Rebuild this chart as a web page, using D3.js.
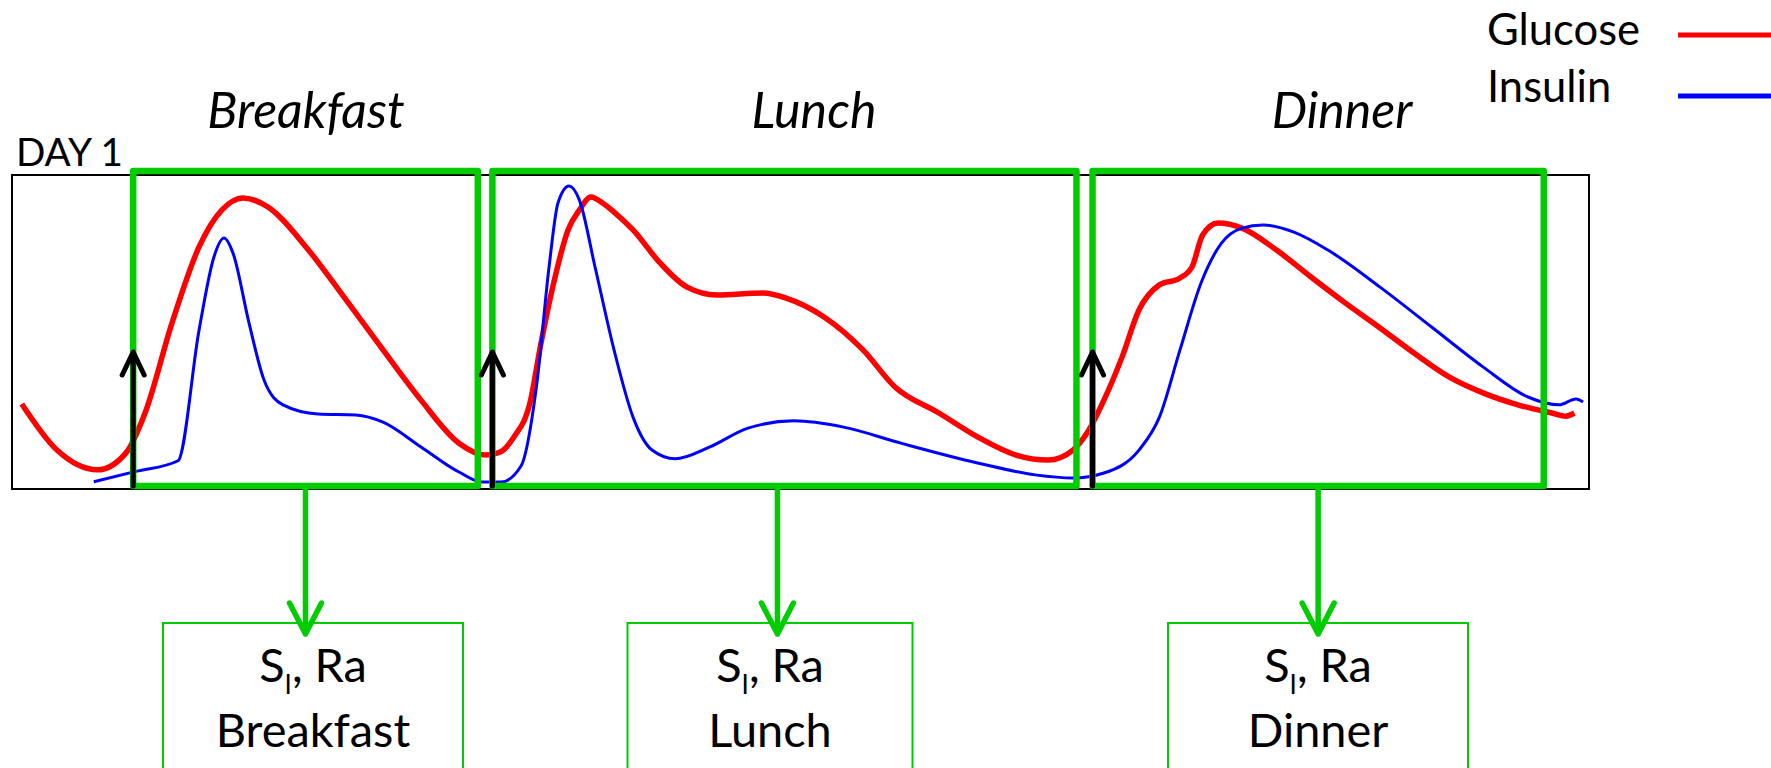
<!DOCTYPE html>
<html><head><meta charset="utf-8">
<script src="https://cdn.jsdelivr.net/npm/d3@7"></script>
<style>html,body{margin:0;padding:0;background:#fff;}svg{display:block;}</style>
</head><body>
<script>
// ---------- data (time in minutes from start of trace, level in a.u.) ----------
const glucoseT = [6.7,30.8,58.6,78.1,91.1,109.6,128.1,143.8,158.2,175.3,201.3,227.4,254.1,280.1,306.1,324.6,334,343.8,354.7,362.3,371.9,380.8,388.6,396.5,404.4,412.3,425.3,443.8,462.3,482.8,514.3,530.1,556.1,582.8,604.7,634.8,661.2,687.6,709.5,726.6,736.2,747.8,760.2,771.8,785.8,799.9,808.1,815.4,825.9,842.4,866.0,889.6,913.2,936.9,960.1,984.1,1007.4,1031.3,1054.6,1064.2,1070.0];
const glucoseV = [27.1,12.4,6.1,11.5,24.2,52.9,77.1,88.9,92.7,89.8,77.1,61.1,44.3,28.3,14.6,10.8,11.7,16.6,27.4,46.5,67.5,82.5,88.9,93.0,91.1,88.2,82.5,72.0,64.3,61.8,62.4,60.8,54.8,44.3,32.5,24.2,16.6,10.8,9.2,12.4,17.8,28.3,42.0,57.0,65.0,67.2,70.7,80.9,84.7,83.1,76.1,67.5,59.2,51.3,43.3,35.7,30.6,26.8,24.2,23.2,24.2];
const insulinT = [56.0,84.8,113.7,128.1,138.3,145.2,151.3,162.3,172.6,185.6,209.6,235.6,254.1,280.1,306.1,321.9,334.9,348.6,359.5,367.8,373.9,381.5,388.6,399.3,412.3,425.3,438.3,454.1,478.0,504.0,535.5,569.5,608.8,661.2,700.6,726.6,747.8,771.8,785.8,799.9,814.3,828.3,842.4,856.7,877.9,901.2,936.9,972.2,1007.4,1038.2,1059.5,1071.1,1075.9];
const insulinV = [2.3,5.6,9.0,50.6,73.9,79.9,75.2,52.9,34.7,26.8,23.9,23.6,21.3,13.4,5.4,2.2,2.2,7.3,33.8,70.7,91.1,96.5,92.0,70.7,44.3,22.9,12.4,9.6,13.4,19.4,21.7,19.7,14.6,8.3,4.5,3.5,5.1,12.4,22.9,44.3,65.6,78.3,83.1,84.1,81.8,76.1,64.3,51.6,38.9,29.3,26.8,28.7,27.7];
const meals = ["Breakfast","Lunch","Dinner"];
const mealStart = [83, 329, 740];
const mealEnd = [319, 729, 1049];
const seriesNames = ["Glucose","Insulin"];
const dayLabel = "DAY 1";
const paramLine1 = ["S","I",", Ra"];

// ---------- layout ----------
const W = 1771, H = 768;
const GREEN = "#00cc00";
const svg = d3.select("body").append("svg").attr("width", W).attr("height", H);
const x = d3.scaleLinear().domain([0, 1080]).range([12, 1589]);
const y = d3.scaleLinear().domain([0, 100]).range([489, 175]);
const FONT = "Lato, 'Open Sans', sans-serif";

function fitGroup(sels, targets) {
  const sizes = sels.map((s, i) => {
    const fs = parseFloat(s.attr("font-size"));
    const L = s.node().getComputedTextLength();
    return L > 0 ? fs * targets[i] / L : fs;
  });
  const m = d3.mean(sizes);
  sels.forEach(s => s.attr("font-size", m.toFixed(2)));
  return m;
}

svg.append("rect")
  .attr("x", x(0)).attr("y", y(100))
  .attr("width", x(1080) - x(0)).attr("height", y(0) - y(100))
  .attr("fill", "none").attr("stroke", "#000").attr("stroke-width", 2);

const dl = svg.append("text").text(dayLabel)
  .attr("x", 16).attr("y", 166).attr("font-family", FONT).attr("font-size", 39).attr("fill", "#000");
fitGroup([dl], [107]);

const line = d3.line().x(d => x(d[0])).y(d => y(d[1])).curve(d3.curveMonotoneX);
const gData = glucoseT.map((t, i) => [t, glucoseV[i]]);
const iData = insulinT.map((t, i) => [t, insulinV[i]]);
svg.append("path").attr("d", line(gData)).attr("fill", "none")
  .attr("stroke", "#ff0000").attr("stroke-width", 5.5).attr("stroke-linejoin", "round");
svg.append("path").attr("d", line(iData)).attr("fill", "none")
  .attr("stroke", "#0000ff").attr("stroke-width", 3).attr("stroke-linejoin", "round");

const boxTop = y(100) - 4, boxBot = y(0) - 3;
const titleCx = [306, 814, 1342];
const stemOffset = [0, -7, 0];
const paramCx = [313, 770, 1318];
const paramW = [300, 285, 300];
const paramTop = 623;
const stemTip = 634;
const titleW = [203, 122, 140];
const nameW = [195, 122, 141];
const titles = [], names = [], params = [];

meals.forEach((m, i) => {
  const x0 = x(mealStart[i]), x1 = x(mealEnd[i]);
  const cx = (x0 + x1) / 2 + stemOffset[i];
  svg.append("path")
    .attr("d", `M${cx},${boxBot} L${cx},${stemTip} M${cx - 16},${stemTip - 31} L${cx},${stemTip} L${cx + 16},${stemTip - 31}`)
    .attr("fill", "none").attr("stroke", GREEN).attr("stroke-width", 5.5)
    .attr("stroke-linecap", "round").attr("stroke-linejoin", "round");
  svg.append("rect").attr("x", paramCx[i] - paramW[i] / 2).attr("y", paramTop)
    .attr("width", paramW[i]).attr("height", 200)
    .attr("fill", "none").attr("stroke", GREEN).attr("stroke-width", 2);
  svg.append("rect").attr("x", x0).attr("y", boxTop).attr("width", x1 - x0).attr("height", boxBot - boxTop)
    .attr("fill", "none").attr("stroke", GREEN).attr("stroke-width", 6.5).attr("stroke-linejoin", "round");
  const tip = 352;
  svg.append("path")
    .attr("d", `M${x0},${boxBot} L${x0},${tip} M${x0 - 11},${tip + 23} L${x0},${tip} L${x0 + 11},${tip + 23}`)
    .attr("fill", "none").attr("stroke", "#000").attr("stroke-width", 5)
    .attr("stroke-linecap", "round").attr("stroke-linejoin", "round");
  titles.push(svg.append("text").text(m).attr("x", titleCx[i]).attr("y", 128)
    .attr("text-anchor", "middle").attr("font-family", FONT).attr("font-style", "italic")
    .attr("font-size", 46).attr("fill", "#000"));
  const t1 = svg.append("text").attr("x", paramCx[i]).attr("y", 682).attr("text-anchor", "middle")
    .attr("font-family", FONT).attr("font-size", 46).attr("fill", "#000");
  t1.append("tspan").text(paramLine1[0]);
  t1.append("tspan").attr("class", "sub").text(paramLine1[1]).attr("font-size", 26).attr("dy", 12);
  t1.append("tspan").text(paramLine1[2]).attr("dy", -12);
  params.push(t1);
  names.push(svg.append("text").text(m).attr("x", paramCx[i]).attr("y", 747).attr("text-anchor", "middle")
    .attr("font-family", FONT).attr("font-size", 46).attr("fill", "#000"));
});
fitGroup(titles, titleW);
fitGroup(names.concat(params), nameW.concat([108, 108, 108]));
params.forEach(p => p.select("tspan.sub").attr("font-size", 26));

const legColor = ["#ff0000", "#0000ff"];
const legBase = [45, 102];
const legLineY = [35, 96];
const legTexts = [];
seriesNames.forEach((s, i) => {
  legTexts.push(svg.append("text").text(s).attr("x", 1487).attr("y", legBase[i])
    .attr("font-family", FONT).attr("font-size", 39).attr("fill", "#000"));
  svg.append("line").attr("x1", 1678).attr("x2", 1771).attr("y1", legLineY[i]).attr("y2", legLineY[i])
    .attr("stroke", legColor[i]).attr("stroke-width", 5);
});
fitGroup(legTexts, [152, 125]);
</script>
</body></html>
